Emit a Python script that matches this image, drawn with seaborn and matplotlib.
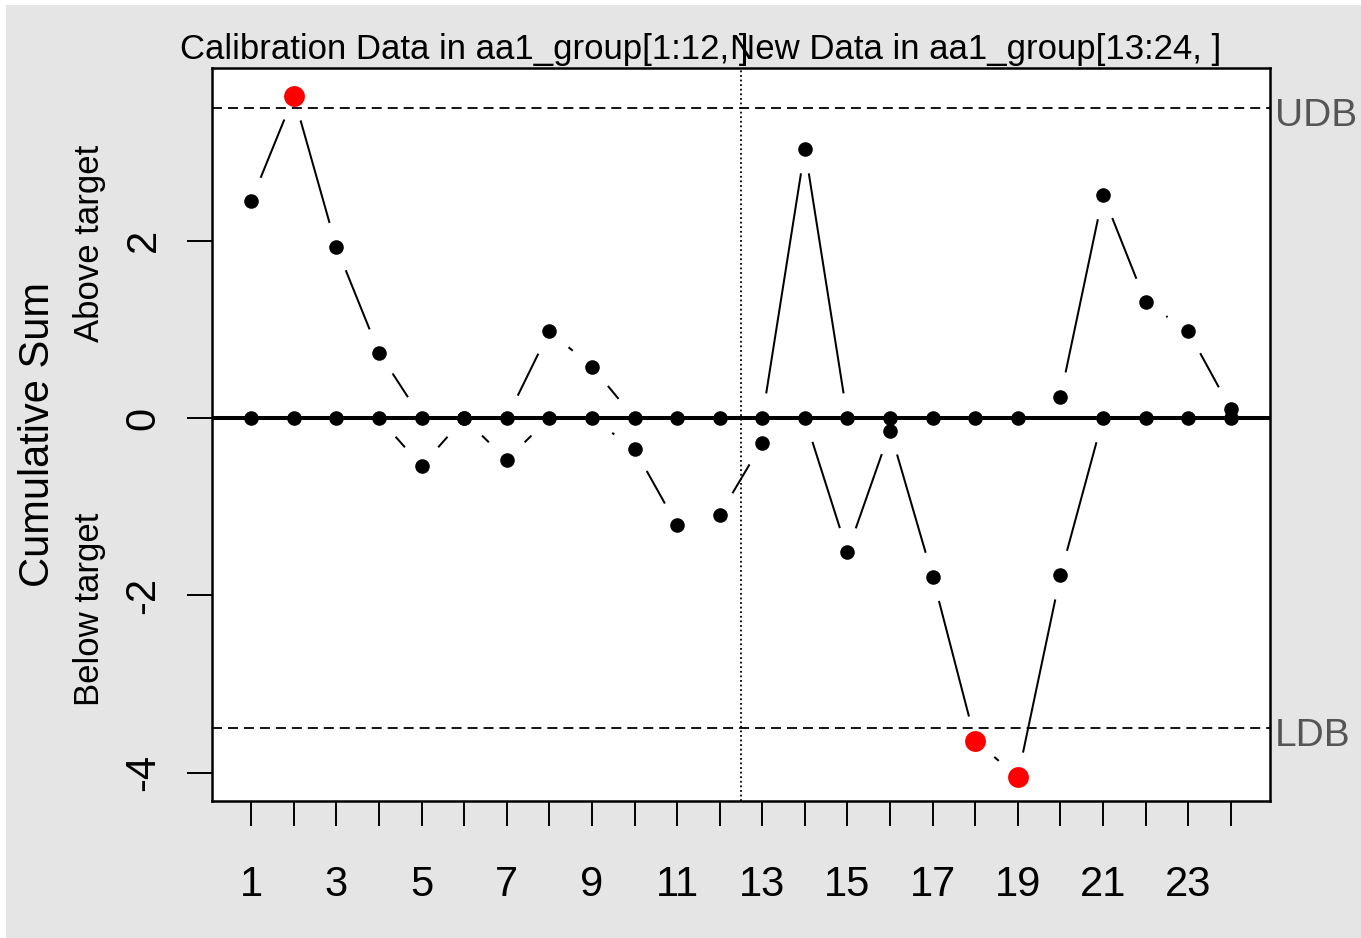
import numpy as np
import pandas as pd
import matplotlib
matplotlib.use("Agg")
import matplotlib.pyplot as plt
import matplotlib.transforms as mtransforms
from matplotlib.patches import Rectangle
import seaborn as sns

# CUSUM statistics for 24 groups (12 calibration + 12 new)
samples = list(range(1, 25))
cusum_pos = [2.45, 3.63, 1.93, 0.74, 0, 0, 0, 0.98, 0.58, 0, 0, 0,
             0, 3.04, 0, 0, 0, 0, 0, 0.24, 2.52, 1.31, 0.98, 0.10]
cusum_neg = [0, 0, 0, 0, -0.54, 0, -0.47, 0, 0, -0.35, -1.21, -1.09,
             -0.28, 0, -1.51, -0.14, -1.79, -3.64, -4.05, -1.77, 0, 0, 0, 0]
udb = 3.5
ldb = -3.5
n_calibration = 12
n_new = 12
x_tick_labels = [str(s) if s % 2 == 1 else "" for s in samples]
y_ticks = [-4, -2, 0, 2]
title_calib = "Calibration Data in aa1_group[1:12, ]"
title_new = "New Data in aa1_group[13:24, ]"

sns.set_style("white")
plt.rcParams["font.family"] = ["Liberation Sans", "DejaVu Sans"]
plt.rcParams["lines.scale_dashes"] = False
plt.rcParams["text.color"] = "black"

fig = plt.figure(figsize=(13.61, 9.38), dpi=100)
fig.patch.set_facecolor("white")
fig.add_artist(Rectangle((6 / 1361, 0), 1 - 6 / 1361, 1 - 5 / 938,
                         transform=fig.transFigure, facecolor="#e5e5e5",
                         edgecolor="none", zorder=-10))

ax = fig.add_axes([212 / 1361, 1 - 801 / 938, (1270 - 212) / 1361, (801 - 68) / 938])
ax.set_facecolor("white")
ax.set_xlim(1 - 0.04 * 23, 24 + 0.04 * 23)
ax.set_ylim(-4.32, 3.95)

# centre line, decision boundaries and calibration/new separator
ax.axhline(0, color="black", lw=2.9, zorder=1)
ax.axhline(udb, color="black", lw=1.3, dashes=(7.2, 4.3), zorder=1)
ax.axhline(ldb, color="black", lw=1.3, dashes=(7.2, 4.3), zorder=1)
ax.axvline(n_calibration + 0.5, color="black", lw=1.3, dashes=(1.3, 2.0), zorder=1)


def gapped_lines(ax, x, y, gap_px=25):
    """Connect consecutive points, leaving a gap around every point."""
    pts = ax.transData.transform(np.column_stack([x, y]))
    inv = ax.transData.inverted()
    for p0, p1 in zip(pts[:-1], pts[1:]):
        d = p1 - p0
        length = np.hypot(*d)
        if length <= 2 * gap_px:
            continue
        u = d / length
        a, b = inv.transform([p0 + u * gap_px, p1 - u * gap_px])
        ax.plot([a[0], b[0]], [a[1], b[1]], color="black", lw=1.45,
                solid_capstyle="butt", zorder=2)


gapped_lines(ax, samples, cusum_pos)
gapped_lines(ax, samples, cusum_neg)

df = pd.DataFrame({
    "sample": samples * 2,
    "cusum": cusum_pos + cusum_neg,
})
df["out"] = (df["cusum"] > udb) | (df["cusum"] < ldb)

sns.scatterplot(data=df[~df["out"]], x="sample", y="cusum", color="black",
                s=110, linewidth=0, ax=ax, zorder=3, legend=False)
sns.scatterplot(data=df[df["out"]], x="sample", y="cusum", color="#ff0000",
                s=225, linewidth=0, ax=ax, zorder=4, legend=False)

ax.set_xlabel("")
ax.set_ylabel("")
ax.set_xticks(samples)
ax.set_xticklabels(x_tick_labels)
ax.set_yticks(y_ticks)
ax.set_yticklabels([str(v) for v in y_ticks], rotation=90, va="center")
ax.tick_params(axis="x", length=18, width=1.4, labelsize=30, pad=28,
               direction="out", bottom=True, colors="black")
ax.tick_params(axis="y", length=18, width=1.4, labelsize=30, pad=17,
               direction="out", left=True, colors="black")
for sp in ax.spines.values():
    sp.set_color("black")
    sp.set_linewidth(1.8)
    sp.set_visible(True)

# boundary labels in the right margin
right_tr = mtransforms.blended_transform_factory(fig.transFigure, ax.transData)
label_tr = right_tr + mtransforms.ScaledTranslation(0, -8 / 100, fig.dpi_scale_trans)
ax.text(1275 / 1361, udb, "UDB", transform=label_tr, ha="left", va="center",
        fontsize=28, color="#555555")
ax.text(1275 / 1361, ldb, "LDB", transform=label_tr, ha="left", va="center",
        fontsize=28, color="#555555")

# axis titles
ylo, yhi = ax.get_ylim()
fig.text(38 / 1361, 1 - 434.5 / 938, "Cumulative Sum", rotation=90,
         ha="center", va="center", fontsize=30, color="black")
ax.text(90 / 1361, (0 + yhi) / 2, "Above target", transform=right_tr,
        rotation=90, ha="center", va="center", fontsize=25, color="black")
ax.text(90 / 1361, (0 + ylo) / 2, "Below target", transform=right_tr,
        rotation=90, ha="center", va="center", fontsize=25, color="black")

# section headings
top_tr = mtransforms.blended_transform_factory(ax.transData, fig.transFigure)
ax.text(n_calibration / 2, 1 - 49 / 938, title_calib, transform=top_tr,
        ha="center", va="center", fontsize=25, color="black")
ax.text(n_calibration + n_new / 2, 1 - 49 / 938, title_new, transform=top_tr,
        ha="center", va="center", fontsize=25, color="black")

fig.savefig("out.png", dpi=100, facecolor=fig.get_facecolor())
